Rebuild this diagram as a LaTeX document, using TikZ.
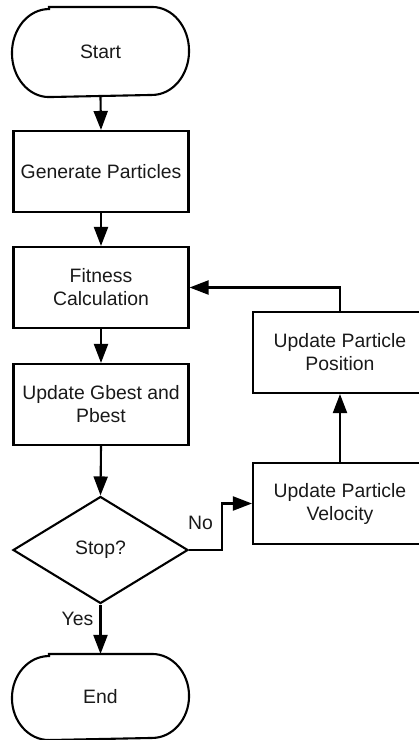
\documentclass[tikz,border=0pt]{standalone}
\usepackage{fontspec}
\setmainfont{Liberation Sans}
\usetikzlibrary{arrows.meta,shapes.geometric}

\tikzset{
  base/.style={inner sep=0pt, align=center, font=\fontsize{19.4}{23}\selectfont, text=black!90},
  procbox/.style={base, draw, rectangle, minimum width=175pt, minimum height=81pt},
  termbox/.style={base, minimum width=175pt},
  decision/.style={base, draw, diamond, minimum width=175pt, minimum height=107pt},
  flow/.style={-{Triangle[length=19pt,width=14pt]}},
  lbl/.style={base}
}

\begin{document}
\begin{tikzpicture}[x=1pt, y=-1pt, line width=2.1pt]
  \useasboundingbox (0,0) rectangle (419,740);
  \clip (0,0) rectangle (419,740);

  % main column
  \node[termbox, minimum height=88pt] (start) at (100.5,52) {Start};
  \node[procbox] (gen) at (101,171.5) {Generate Particles};
  \node[procbox] (fit) at (101,287.5) {Fitness\\Calculation};
  \node[procbox] (upd) at (101,404.5) {Update Gbest and\\Pbest};
  \node[decision] (stop) at (100.5,550) {Stop?};
  \node[termbox, minimum height=84pt] (finish) at (100.5,697) {End};

  % update column
  \node[procbox, minimum width=174pt] (pos) at (340,352.5) {Update Particle\\Position};
  \node[procbox, minimum width=174pt] (vel) at (340,503.5) {Update Particle\\Velocity};

  % terminator outlines with elliptical ends
  \draw ([xshift=37pt]start.north west) -- ([xshift=-37pt]start.north east)
        arc[start angle=90, end angle=-90, x radius=37pt, y radius=44pt]
        -- ([xshift=37pt]start.south west)
        arc[start angle=270, end angle=90, x radius=37pt, y radius=44pt] -- cycle;
  \draw ([xshift=37pt]finish.north west) -- ([xshift=-37pt]finish.north east)
        arc[start angle=90, end angle=-90, x radius=37pt, y radius=42pt]
        -- ([xshift=37pt]finish.south west)
        arc[start angle=270, end angle=90, x radius=37pt, y radius=42pt] -- cycle;

  % connectors
  \draw[flow] (start.south) -- (gen.north);
  \draw[flow] (gen.south) -- (fit.north);
  \draw[flow] (fit.south) -- (upd.north);
  \draw[flow] (upd.south) -- (stop.north);
  \draw[flow] (stop.south) -- (finish.north);
  \draw[flow] (stop.east) -- ++(33,0) |- (vel.west);
  \draw[flow] (vel.north) -- (pos.south);
  \draw[flow] (pos.north) |- (fit.east);

  % branch labels
  \node[lbl] (no) at (200.5,523) {No};
  \node[lbl] (yes) at (77.5,619) {Yes};
\end{tikzpicture}
\end{document}
